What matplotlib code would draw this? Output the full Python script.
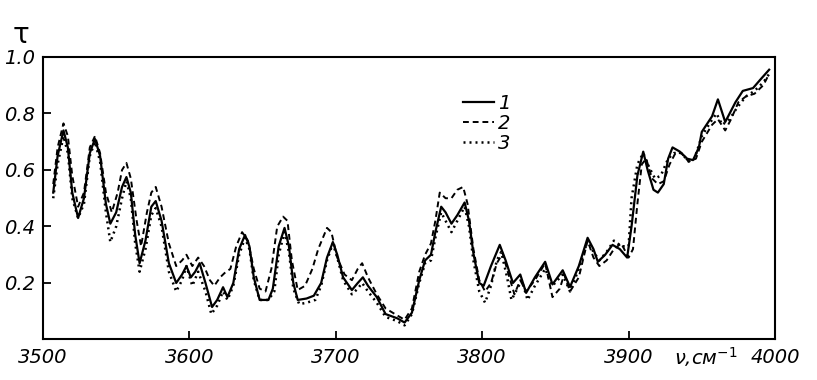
import matplotlib.pyplot as plt

# curve 1 (solid)
nu1 = [3507, 3510, 3514, 3517, 3520, 3524, 3528, 3532, 3535.5, 3539, 3543, 3546, 3550, 3554, 3557,
       3560, 3563, 3566, 3570, 3574, 3577, 3581, 3586, 3591, 3595, 3598, 3601, 3604, 3607, 3611,
       3615.5, 3619, 3623, 3626, 3630, 3634, 3638, 3641, 3644, 3648, 3654, 3657, 3661, 3665, 3668,
       3671, 3674, 3680, 3685, 3690, 3694, 3698, 3701, 3705, 3711, 3715, 3718.5, 3722, 3728, 3734,
       3742, 3747, 3752, 3757, 3761, 3765, 3768, 3772, 3775, 3779, 3783, 3788, 3791, 3794, 3798,
       3801, 3806, 3812, 3816, 3821, 3826, 3830, 3836, 3843, 3848, 3855, 3860, 3866, 3872, 3876,
       3879, 3884, 3889, 3894, 3899, 3902, 3906, 3910, 3913, 3917, 3920, 3924, 3927, 3930, 3935,
       3940, 3944, 3948, 3950, 3957, 3961, 3966, 3970, 3973, 3978, 3985, 3990, 3996]
t1 = [0.52, 0.65, 0.74, 0.68, 0.52, 0.43, 0.50, 0.66, 0.71, 0.65, 0.48, 0.41, 0.45, 0.54, 0.575,
      0.52, 0.37, 0.27, 0.35, 0.47, 0.49, 0.42, 0.27, 0.20, 0.23, 0.26, 0.22, 0.24, 0.27, 0.20,
      0.115, 0.14, 0.185, 0.15, 0.20, 0.32, 0.37, 0.33, 0.22, 0.14, 0.14, 0.18, 0.33, 0.395, 0.33,
      0.20, 0.14, 0.145, 0.155, 0.20, 0.29, 0.345, 0.30, 0.22, 0.175, 0.20, 0.22, 0.19, 0.15, 0.09,
      0.075, 0.06, 0.095, 0.21, 0.28, 0.30, 0.38, 0.47, 0.45, 0.41, 0.44, 0.485, 0.42, 0.305, 0.20,
      0.19, 0.26, 0.335, 0.28, 0.20, 0.23, 0.165, 0.22, 0.275, 0.195, 0.245, 0.186, 0.26, 0.36, 0.32,
      0.275, 0.30, 0.335, 0.32, 0.29, 0.40, 0.58, 0.665, 0.60, 0.53, 0.52, 0.55, 0.64, 0.68, 0.665,
      0.64, 0.635, 0.68, 0.735, 0.79, 0.85, 0.77, 0.81, 0.84, 0.88, 0.89, 0.92, 0.955]

# curve 2 (dashed)
nu2 = [3507, 3510, 3514, 3517, 3520, 3524, 3528, 3532, 3535.5, 3539, 3543, 3547, 3551, 3554, 3557,
       3560, 3564, 3567, 3571, 3574, 3577, 3581, 3586, 3591, 3595, 3598, 3602, 3606, 3610, 3614,
       3617, 3621, 3624, 3628, 3632, 3636, 3640, 3644, 3648, 3652, 3656, 3660, 3664, 3667, 3670,
       3674, 3679, 3684, 3688, 3694, 3697, 3701, 3706, 3711, 3715, 3718, 3722, 3728, 3734, 3742,
       3747, 3752, 3757, 3761, 3765, 3768, 3771, 3775, 3779, 3783, 3787, 3790, 3794, 3798, 3802,
       3806, 3810, 3814, 3818, 3822, 3826, 3830, 3836, 3843, 3848, 3853, 3856, 3860, 3866, 3872,
       3876, 3880, 3885, 3890, 3895, 3900, 3903, 3906, 3909, 3912, 3916, 3920, 3924, 3928, 3932,
       3936, 3941, 3946, 3950, 3957, 3961, 3966, 3970, 3975, 3980, 3986, 3992, 3996]
t2 = [0.55, 0.68, 0.765, 0.72, 0.58, 0.47, 0.52, 0.68, 0.72, 0.66, 0.52, 0.45, 0.52, 0.60, 0.625,
      0.57, 0.42, 0.33, 0.45, 0.52, 0.54, 0.47, 0.34, 0.26, 0.28, 0.30, 0.26, 0.29, 0.26, 0.21,
      0.19, 0.22, 0.235, 0.25, 0.33, 0.38, 0.35, 0.25, 0.18, 0.17, 0.25, 0.40, 0.435, 0.42, 0.28,
      0.175, 0.19, 0.25, 0.32, 0.395, 0.38, 0.29, 0.23, 0.21, 0.25, 0.27, 0.22, 0.16, 0.11, 0.085,
      0.07, 0.11, 0.24, 0.30, 0.34, 0.42, 0.52, 0.50, 0.50, 0.53, 0.54, 0.48, 0.32, 0.21, 0.17,
      0.20, 0.27, 0.305, 0.23, 0.16, 0.21, 0.17, 0.21, 0.27, 0.15, 0.18, 0.23, 0.17, 0.22, 0.35,
      0.29, 0.26, 0.28, 0.32, 0.34, 0.29, 0.32, 0.48, 0.62, 0.64, 0.57, 0.55, 0.56, 0.62, 0.66,
      0.66, 0.63, 0.64, 0.70, 0.76, 0.78, 0.74, 0.78, 0.84, 0.86, 0.87, 0.90, 0.94]

# curve 3 (dotted)
nu3 = [3507, 3510, 3514, 3517, 3520, 3524, 3528, 3532, 3535.5, 3539, 3543, 3546, 3550, 3554, 3557,
       3560, 3563, 3566, 3570, 3574, 3577, 3581, 3586, 3591, 3595, 3598, 3602, 3606, 3611, 3615,
       3619, 3623, 3626, 3630, 3634, 3638, 3641, 3644, 3648, 3654, 3658, 3661, 3665, 3668, 3671,
       3675, 3680, 3686, 3690, 3694, 3698, 3701, 3705, 3711, 3715, 3718, 3722, 3728, 3734, 3742,
       3747, 3752, 3757, 3761, 3765, 3768, 3772, 3775, 3779, 3783, 3788, 3791, 3794, 3798, 3802,
       3806, 3810, 3813, 3817, 3820, 3824, 3827, 3831, 3836, 3843, 3848, 3855, 3860, 3866, 3872,
       3876, 3880, 3885, 3890, 3895, 3900, 3902, 3906, 3910, 3914, 3918, 3922, 3927, 3931, 3936,
       3941, 3945, 3950, 3956, 3960, 3964, 3969, 3974, 3980, 3986, 3992, 3996]
t3 = [0.50, 0.62, 0.72, 0.66, 0.50, 0.43, 0.48, 0.65, 0.70, 0.63, 0.45, 0.345, 0.40, 0.50, 0.56,
      0.50, 0.34, 0.24, 0.32, 0.44, 0.465, 0.40, 0.24, 0.17, 0.21, 0.26, 0.19, 0.24, 0.17, 0.09,
      0.12, 0.17, 0.14, 0.19, 0.30, 0.36, 0.32, 0.21, 0.14, 0.14, 0.17, 0.30, 0.38, 0.31, 0.18,
      0.125, 0.13, 0.14, 0.19, 0.28, 0.34, 0.29, 0.21, 0.16, 0.18, 0.20, 0.17, 0.13, 0.08, 0.065,
      0.05, 0.09, 0.20, 0.27, 0.28, 0.36, 0.45, 0.42, 0.38, 0.42, 0.47, 0.40, 0.28, 0.17, 0.13,
      0.19, 0.28, 0.31, 0.22, 0.14, 0.18, 0.21, 0.14, 0.19, 0.25, 0.19, 0.23, 0.17, 0.25, 0.35,
      0.31, 0.28, 0.31, 0.35, 0.33, 0.33, 0.50, 0.62, 0.66, 0.61, 0.57, 0.58, 0.64, 0.66, 0.66,
      0.63, 0.64, 0.72, 0.77, 0.80, 0.76, 0.78, 0.82, 0.86, 0.88, 0.91, 0.94]

xticks = [3500, 3600, 3700, 3800, 3900, 4000]
yticks = [0.2, 0.4, 0.6, 0.8, 1.0]
ytick_labels = ['0.2', '0.4', '0.6', '0.8', '1.0']
labels = ['1', '2', '3']

fig = plt.figure(figsize=(8.17, 3.80), dpi=100)
ax = fig.add_axes([0.0526, 0.1066, 0.896, 0.7434])

ax.plot(nu1, t1, color='black', lw=1.6, solid_joinstyle='round', label=labels[0])
ax.plot(nu2, t2, color='black', lw=1.4, dashes=(3, 2), label=labels[1])
ax.plot(nu3, t3, color='black', lw=1.8, dashes=(0.8, 1.6), label=labels[2])

ax.set_xlim(3500, 4000)
ax.set_ylim(0, 1.0)
ax.set_xticks(xticks)
ax.set_yticks(yticks)
ax.set_yticklabels(ytick_labels)
for s in ax.spines.values():
    s.set_linewidth(1.5)
ax.tick_params(direction='in', length=6, width=1.3, labelsize=14, pad=6)
for lab in ax.get_xticklabels() + ax.get_yticklabels():
    lab.set_style('italic')

# wavenumber unit sits on the tick-label line between 3900 and 4000
ax.text(0.905, -0.02, '\u03bd,см$^{-1}$', transform=ax.transAxes, fontsize=14,
        style='italic', ha='center', va='top')
ax.text(-0.03, 1.03, '\u03c4', transform=ax.transAxes, fontsize=20,
        ha='center', va='bottom')

ax.legend(loc='upper left', bbox_to_anchor=(0.55, 0.93), frameon=False,
          handlelength=1.6, handletextpad=0.2, labelspacing=0.05,
          prop={'size': 14, 'style': 'italic'})

fig.savefig('out.png', dpi=100)
